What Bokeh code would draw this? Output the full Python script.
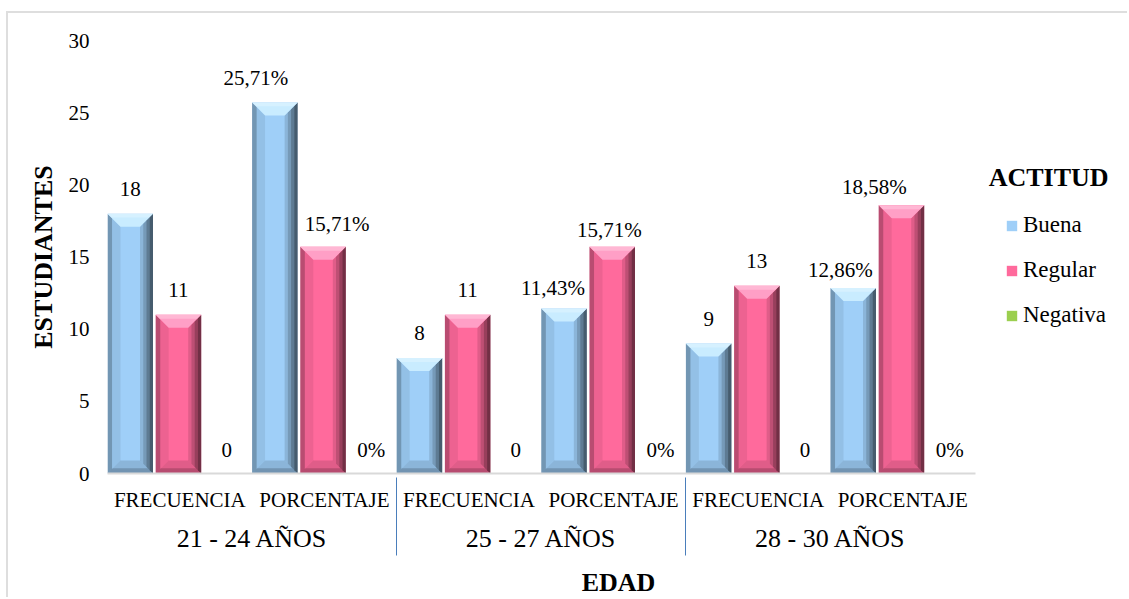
import numpy as np
from bokeh.plotting import figure
from bokeh.models import (Range1d, FixedTicker, LinearAxis, Legend, LegendItem, Label,
                          ColumnDataSource)
from bokeh.core.properties import value
from bokeh.embed import file_html
from bokeh.resources import INLINE

# ---------------- data ----------------
groups = ["21 - 24 AÑOS", "25 - 27 AÑOS", "28 - 30 AÑOS"]
subcats = ["FRECUENCIA", "PORCENTAJE"]
series = ["Buena", "Regular", "Negativa"]
buena = [18, 25.71, 8, 11.43, 9, 12.86]
regular = [11, 15.71, 11, 15.71, 13, 18.58]
negativa = [0, 0, 0, 0, 0, 0]
y_ticks = [0, 5, 10, 15, 20, 25, 30]

# ---------------- style ----------------
FONT = "Liberation Serif"
W, H = 1121, 586
ML, MT, MB = 99, 27, 126
frame_w = W - ML
frame_h = H - MT - MB
SLOT = 2.0
PX_SLOT = 48.2
px_x = PX_SLOT / SLOT
px_y = frame_h / 30.0
x_end = frame_w / px_x
BAR_W = 45.5 / PX_SLOT * SLOT
BEV = 13.0

# data-label placement tweaks (pixels), per series, per sub-category
label_dx_px = {"Buena": [0, -19, 0, -11, 0, -13],
               "Regular": [0, 14, 0, -3, 0, -27],
               "Negativa": [0, 0, 0, 0, 0, 0]}
label_gap_px = {"Buena": [16, 15, 16, 12, 16, 9],
                "Regular": [16, 14, 16, 8, 16, 9],
                "Negativa": [15, 15, 15, 15, 15, 15]}

colors = {
    "Buena": dict(base="#9fcff8", top="#c9ecff"),
    "Regular": dict(base="#ff6a9c", top="#ff9fc6"),
    "Negativa": dict(base="#9bcf4f", top="#c8ec8a"),
}

p = figure(width=W, height=H, x_range=Range1d(0, x_end), y_range=Range1d(0, 30),
           output_backend="svg", toolbar_location=None,
           min_border_left=ML, min_border_top=MT, min_border_bottom=MB, min_border_right=0,
           x_axis_location=None, y_axis_location="left",
           styles={"margin-top": "11px", "margin-left": "6px",
                   "border-top": "2px solid #dedede", "border-left": "2px solid #dedede"})
p.grid.visible = False
p.outline_line_color = None
p.background_fill_color = "white"
p.border_fill_color = "white"

# y axis
ya = p.yaxis[0]
ya.ticker = FixedTicker(ticks=y_ticks)
ya.axis_line_color = None
ya.major_tick_line_color = None
ya.minor_tick_line_color = None
ya.major_tick_out = 0
ya.minor_tick_out = 0
ya.major_label_standoff = 18
ya.major_label_text_font = FONT
ya.major_label_text_font_size = "21px"
ya.major_label_text_color = "black"
ya.axis_label = "ESTUDIANTES"
ya.axis_label_text_font = FONT
ya.axis_label_text_font_size = "26px"
ya.axis_label_text_font_style = "bold"
ya.axis_label_text_color = "black"
ya.axis_label_standoff = 8

# ---------------- bars ----------------
values = {"Buena": buena, "Regular": regular, "Negativa": negativa}
n_ser = len(series)
n_sub = len(groups) * len(subcats)


def face_polys(x0, x1, y0, y1, side, f):
    xs, ys = [], []
    for a, b, c, d in zip(x0, x1, y0, y1):
        bx = min(BEV / px_x, (b - a) / 2) * f
        by = min(BEV / px_y, (d - c) / 2) * f
        if side == "top":
            px_, py_ = [a, b, b - bx, a + bx], [d, d, d - by, d - by]
        elif side == "bottom":
            px_, py_ = [a, b, b - bx, a + bx], [c, c, c + by, c + by]
        elif side == "left":
            px_, py_ = [a, a + bx, a + bx, a], [c, c + by, d - by, d]
        else:
            px_, py_ = [b, b - bx, b - bx, b], [c, c + by, d - by, d]
        xs.append(px_)
        ys.append(py_)
    return xs, ys


base_renderers = {}
lab = dict(x=[], y=[], text=[], dx=[], dy=[])
for k, name in enumerate(series):
    vals = np.array(values[name], dtype=float)
    slots = np.arange(n_sub) * n_ser + k
    left = slots * SLOT
    right = left + BAR_W
    bottom = np.zeros(n_sub)
    top = vals
    r = p.quad(left=left, right=right, bottom=bottom, top=top,
               fill_color=colors[name]["base"], line_color=None)
    base_renderers[name] = r
    mask = vals > 0
    L, R, B_, T = left[mask], right[mask], bottom[mask], top[mask]
    if len(L):
        xs, ys = face_polys(L, R, B_, T, "left", 1.0)
        p.patches(xs, ys, fill_color="black", fill_alpha=0.07, line_color=None)
        xs, ys = face_polys(L, R, B_, T, "left", 0.35)
        p.patches(xs, ys, fill_color="black", fill_alpha=0.22, line_color=None)
        for f, a in [(1.0, 0.12), (0.75, 0.15), (0.5, 0.2), (0.25, 0.25)]:
            xs, ys = face_polys(L, R, B_, T, "right", f)
            p.patches(xs, ys, fill_color="black", fill_alpha=a, line_color=None)
        for f, a in [(1.0, 0.12), (0.4, 0.18)]:
            xs, ys = face_polys(L, R, B_, T, "bottom", f)
            p.patches(xs, ys, fill_color="black", fill_alpha=a, line_color=None)
        xs, ys = face_polys(L, R, B_, T, "top", 1.0)
        p.patches(xs, ys, fill_color=colors[name]["top"], line_color=None)
        xs, ys = face_polys(L, R, B_, T, "top", 0.3)
        p.patches(xs, ys, fill_color="white", fill_alpha=0.25, line_color=None)
    for i, v in enumerate(vals):
        lab["x"].append((left[i] + right[i]) / 2)
        lab["y"].append(v)
        lab["dx"].append(label_dx_px[name][i])
        lab["dy"].append(-(label_gap_px[name][i] + 9))
        if i % 2 == 0:
            lab["text"].append(f"{v:g}")
        else:
            lab["text"].append("0%" if v == 0 else f"{v:.2f}".replace(".", ",") + "%")

p.text(x="x", y="y", text="text", x_offset="dx", y_offset="dy",
       source=ColumnDataSource(lab), text_font=value(FONT), text_font_size="21px",
       text_color="black", text_align="center", text_baseline="alphabetic")

# ---------------- x axes ----------------
sub_centers = [int((s * n_ser) * SLOT + n_ser * SLOT / 2) for s in range(n_sub)]
group_w = len(subcats) * n_ser * SLOT
group_centers = [int(g * group_w + group_w / 2) for g in range(len(groups))]
dividers = [int(g * group_w) for g in range(1, len(groups))]

ax1 = LinearAxis(ticker=FixedTicker(ticks=sub_centers),
                 major_label_overrides={c: subcats[i % len(subcats)] for i, c in enumerate(sub_centers)},
                 axis_line_color="#d9d9d9", axis_line_width=2, bounds=(0, n_sub * n_ser * SLOT),
                 major_tick_line_color=None, minor_tick_line_color=None,
                 major_tick_out=0, major_tick_in=0, minor_tick_out=0, minor_tick_in=0,
                 major_label_standoff=14, major_label_text_font=FONT,
                 major_label_text_font_size="21px", major_label_text_color="black")
ax2 = LinearAxis(ticker=FixedTicker(ticks=group_centers),
                 major_label_overrides={c: groups[i] for i, c in enumerate(group_centers)},
                 axis_line_color=None, major_tick_line_color=None, minor_tick_line_color=None,
                 major_tick_out=0, major_tick_in=0, minor_tick_out=0, minor_tick_in=0,
                 major_label_standoff=9, major_label_text_font=FONT,
                 major_label_text_font_size="26px", major_label_text_color="black")
ax3 = LinearAxis(ticker=FixedTicker(ticks=[], minor_ticks=dividers),
                 axis_line_color=None, major_tick_line_color=None,
                 minor_tick_line_color="#4a7ebb", minor_tick_line_width=1,
                 major_tick_out=0, major_tick_in=0, minor_tick_in=78, minor_tick_out=0,
                 major_label_standoff=0,
                 axis_label="EDAD", axis_label_text_font=FONT, axis_label_text_font_size="26px",
                 axis_label_text_font_style="bold", axis_label_text_color="black",
                 axis_label_standoff=12)
p.add_layout(ax1, "below")
p.add_layout(ax2, "below")
p.add_layout(ax3, "below")

# ---------------- legend ----------------
legend = Legend(items=[LegendItem(label=n, renderers=[base_renderers[n]]) for n in series],
                location=(898, 145), glyph_width=13, glyph_height=13,
                label_text_font=FONT, label_text_font_size="23px", label_text_color="black",
                label_standoff=5, spacing=19, padding=0, margin=0,
                border_line_color=None, background_fill_alpha=0)
p.add_layout(legend)
p.add_layout(Label(x=39.05, y=(473 - 177) / px_y, text="ACTITUD", text_font=FONT,
                   text_font_size="26px", text_font_style="bold", text_color="black",
                   text_align="center", text_baseline="middle"))

open("out.html", "w").write(file_html(p, INLINE))
